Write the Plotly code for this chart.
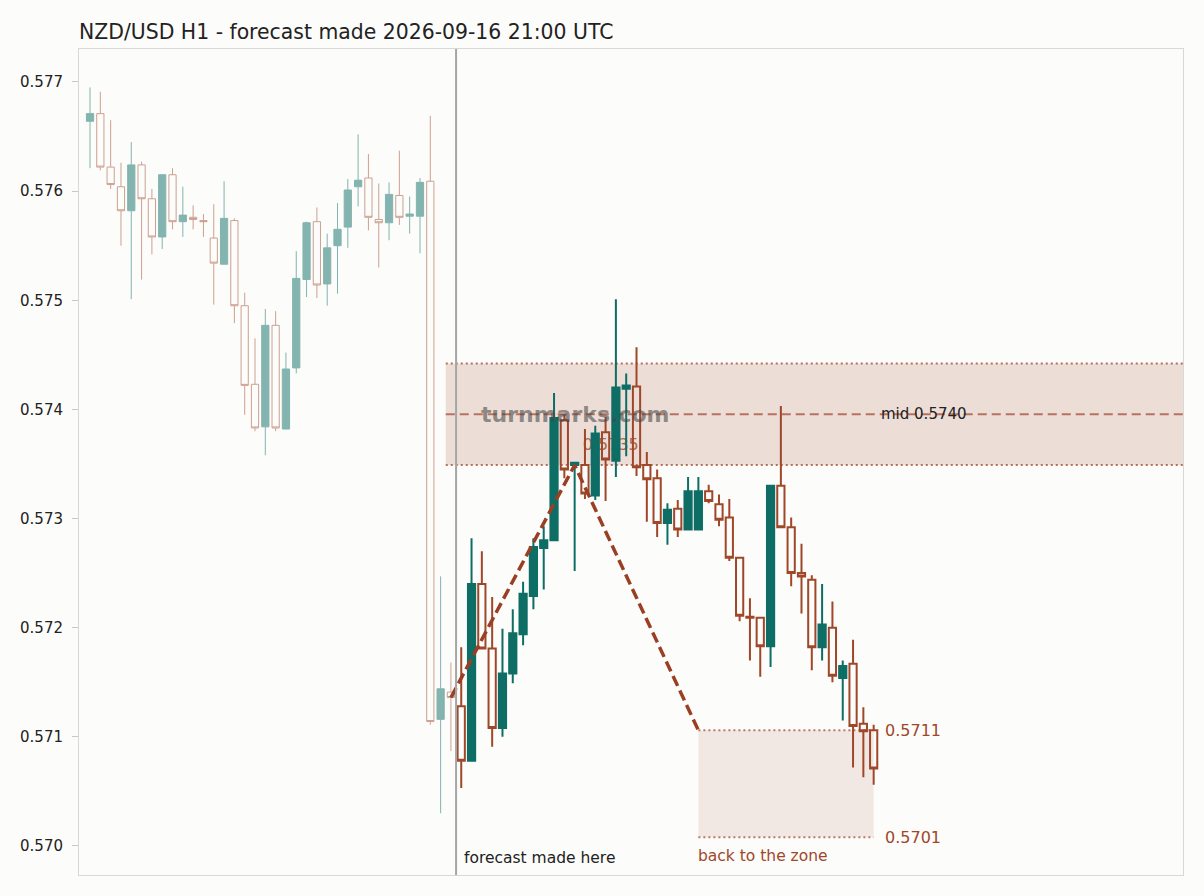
import plotly.graph_objects as go

# ---------------- data ----------------
hist_x = list(range(0, 36))
hist_open = [0.57664, 0.57671, 0.57622, 0.57604, 0.57582, 0.57624, 0.57593, 0.57558, 0.57615, 0.57572,
             0.57576, 0.57573, 0.57557, 0.57533, 0.57573, 0.57495, 0.57423, 0.57384, 0.57477, 0.57382,
             0.57438, 0.57519, 0.57572, 0.57515, 0.57550, 0.57567, 0.57604, 0.57612, 0.57574, 0.57571,
             0.57596, 0.57577, 0.57577, 0.57609, 0.57116, 0.57141]
hist_high = [0.57695, 0.57691, 0.57665, 0.57626, 0.57645, 0.57627, 0.57602, 0.57615, 0.57621, 0.57604,
             0.57587, 0.57579, 0.57588, 0.57609, 0.57575, 0.57507, 0.57465, 0.57492, 0.57490, 0.57452,
             0.57545, 0.57572, 0.57585, 0.57561, 0.57589, 0.57611, 0.57652, 0.57634, 0.57607, 0.57608,
             0.57637, 0.57595, 0.57612, 0.57669, 0.57247, 0.57168]
hist_low = [0.57621, 0.57619, 0.57602, 0.57550, 0.57501, 0.57519, 0.57542, 0.57547, 0.57565, 0.57558,
            0.57565, 0.57558, 0.57496, 0.57533, 0.57479, 0.57395, 0.57380, 0.57358, 0.57380, 0.57382,
            0.57433, 0.57503, 0.57502, 0.57495, 0.57506, 0.57548, 0.57586, 0.57564, 0.57530, 0.57555,
            0.57569, 0.57561, 0.57543, 0.57111, 0.57030, 0.57087]
hist_close = [0.57671, 0.57622, 0.57606, 0.57582, 0.57624, 0.57593, 0.57558, 0.57615, 0.57572, 0.57578,
              0.57574, 0.57572, 0.57534, 0.57575, 0.57495, 0.57422, 0.57383, 0.57477, 0.57383, 0.57437,
              0.57520, 0.57571, 0.57514, 0.57548, 0.57565, 0.57601, 0.57610, 0.57576, 0.57571, 0.57597,
              0.57576, 0.57579, 0.57608, 0.57114, 0.57144, 0.57136]

fc_x = list(range(36, 77))
fc_open = [0.57128, 0.57078, 0.57240, 0.57181, 0.57108, 0.57158, 0.57194, 0.57229, 0.57273, 0.57280,
           0.57390, 0.57349, 0.57349, 0.57321, 0.57379, 0.57353, 0.57419, 0.57421, 0.57349, 0.57337,
           0.57296, 0.57309, 0.57290, 0.57290, 0.57325, 0.57313, 0.57301, 0.57264, 0.57210, 0.57209,
           0.57183, 0.57330, 0.57292, 0.57250, 0.57244, 0.57182, 0.57200, 0.57154, 0.57167, 0.57112,
           0.57106]
fc_high = [0.57182, 0.57282, 0.57270, 0.57228, 0.57199, 0.57217, 0.57242, 0.57282, 0.57293, 0.57415,
           0.57395, 0.57351, 0.57382, 0.57385, 0.57393, 0.57501, 0.57433, 0.57457, 0.57361, 0.57345,
           0.57314, 0.57317, 0.57338, 0.57338, 0.57331, 0.57322, 0.57318, 0.57264, 0.57227, 0.57209,
           0.57330, 0.57403, 0.57301, 0.57277, 0.57248, 0.57240, 0.57224, 0.57170, 0.57189, 0.57127,
           0.57111]
fc_low = [0.57053, 0.57078, 0.57181, 0.57091, 0.57100, 0.57149, 0.57184, 0.57217, 0.57235, 0.57280,
          0.57337, 0.57252, 0.57318, 0.57317, 0.57316, 0.57338, 0.57357, 0.57339, 0.57297, 0.57283,
          0.57276, 0.57283, 0.57290, 0.57290, 0.57314, 0.57293, 0.57261, 0.57206, 0.57170, 0.57155,
          0.57164, 0.57292, 0.57238, 0.57213, 0.57161, 0.57170, 0.57150, 0.57115, 0.57072, 0.57063,
          0.57056]
fc_close = [0.57078, 0.57240, 0.57181, 0.57108, 0.57158, 0.57195, 0.57231, 0.57274, 0.57280, 0.57392,
            0.57345, 0.57351, 0.57323, 0.57378, 0.57354, 0.57420, 0.57422, 0.57347, 0.57336, 0.57296,
            0.57308, 0.57290, 0.57325, 0.57325, 0.57316, 0.57299, 0.57264, 0.57211, 0.57209, 0.57183,
            0.57330, 0.57292, 0.57250, 0.57247, 0.57182, 0.57203, 0.57156, 0.57165, 0.57110, 0.57105,
            0.57071]

forecast_at = 35.5                      # "forecast made here"
zone_start = 34.5
zone_top, zone_bottom = 0.57442, 0.57349
zone_mid = (zone_top + zone_bottom) / 2
path_x = [35, 47, 59]
path_y = [0.57136, 0.57349, 0.57106]
target_x0, target_x1 = 59, 76
target_top, target_bottom = 0.57106, 0.57008
y_ticks = [0.570, 0.571, 0.572, 0.573, 0.574, 0.575, 0.576, 0.577]
x_range = [-1.07, 106.0]
y_range = [0.569734, 0.577302]

title = "NZD/USD H1 - forecast made 2026-09-16 21:00 UTC"

# ---------------- style ----------------
TEAL = "#0e6e66"
RED = "#a0472a"
BG = "#fcfcfa"
FONT = "DejaVu Sans"

fig = go.Figure()

fig.add_trace(go.Candlestick(
    x=hist_x, open=hist_open, high=hist_high, low=hist_low, close=hist_close,
    increasing=dict(line=dict(color=TEAL, width=1), fillcolor=TEAL),
    decreasing=dict(line=dict(color=RED, width=1), fillcolor="rgba(0,0,0,0)"),
    opacity=0.5, hoverinfo="skip", showlegend=False))

fig.add_trace(go.Candlestick(
    x=fc_x, open=fc_open, high=fc_high, low=fc_low, close=fc_close,
    increasing=dict(line=dict(color=TEAL, width=2), fillcolor=TEAL),
    decreasing=dict(line=dict(color=RED, width=2), fillcolor="rgba(0,0,0,0)"),
    hoverinfo="skip", showlegend=False))

fig.add_trace(go.Scatter(
    x=path_x, y=path_y, mode="lines",
    line=dict(color="#9a3f24", width=3.5, dash="11px,5px"),
    hoverinfo="skip", showlegend=False))

shapes = []
# upper zone
shapes.append(dict(type="rect", xref="x", yref="y", x0=zone_start, x1=x_range[1],
                   y0=zone_bottom, y1=zone_top, fillcolor="rgba(160,71,42,0.17)",
                   line=dict(width=0), layer="below"))
for yv in (zone_top, zone_bottom):
    shapes.append(dict(type="line", xref="x", yref="y", x0=zone_start, x1=x_range[1],
                       y0=yv, y1=yv, line=dict(color="rgba(170,90,65,0.85)", width=2, dash="2px,3px"),
                       layer="below"))
shapes.append(dict(type="line", xref="x", yref="y", x0=zone_start, x1=x_range[1],
                   y0=zone_mid, y1=zone_mid,
                   line=dict(color="rgba(175,95,70,0.85)", width=2, dash="9px,5px"), layer="below"))
# target zone
shapes.append(dict(type="rect", xref="x", yref="y", x0=target_x0, x1=target_x1,
                   y0=target_bottom, y1=target_top, fillcolor="rgba(160,71,42,0.11)",
                   line=dict(width=0), layer="below"))
for yv in (target_top, target_bottom):
    shapes.append(dict(type="line", xref="x", yref="y", x0=target_x0, x1=target_x1,
                       y0=yv, y1=yv, line=dict(color="rgba(170,90,65,0.8)", width=2, dash="2px,3px"),
                       layer="below"))
# forecast vertical line
shapes.append(dict(type="line", xref="x", yref="paper", x0=forecast_at, x1=forecast_at,
                   y0=0, y1=1, line=dict(color="#a3a7a5", width=2), layer="above"))
# turning point label (under the candles)
shapes.append(dict(type="rect", xref="x", yref="y", x0=path_x[1] + 0.5, x1=path_x[1] + 7,
                   y0=path_y[1] + 0.00019, y1=path_y[1] + 0.00021,
                   line=dict(width=0), fillcolor="rgba(0,0,0,0)", layer="below",
                   label=dict(text=f"{path_y[1]:.4f}", textposition="middle left", padding=0,
                              font=dict(family=FONT, size=16, color="rgba(160,71,42,0.8)"))))

annotations = [
    dict(x=path_x[1], y=zone_mid, xref="x", yref="y", text="<b>turnmarks.com</b>", showarrow=False,
         xanchor="center", yanchor="middle",
         font=dict(family=FONT, size=22, color="rgba(70,70,70,0.58)")),
    dict(x=76.5, y=zone_mid, xref="x", yref="y", text=f"mid {zone_mid:.4f}", showarrow=False,
         xanchor="left", yanchor="middle", font=dict(family=FONT, size=15, color="#222222")),
    dict(x=76.9, y=target_top, xref="x", yref="y", text=f"{target_top:.4f}", showarrow=False,
         xanchor="left", yanchor="middle", font=dict(family=FONT, size=16, color=RED)),
    dict(x=76.9, y=target_bottom, xref="x", yref="y", text=f"{target_bottom:.4f}", showarrow=False,
         xanchor="left", yanchor="middle", font=dict(family=FONT, size=16, color=RED)),
    dict(x=target_x0, y=target_bottom, xref="x", yref="y", text="back to the zone", showarrow=False,
         xanchor="left", yanchor="top", yshift=-8, xshift=-2, font=dict(family=FONT, size=15.5, color=RED)),
    dict(x=forecast_at + 0.6, y=0, xref="x", yref="paper", text="forecast made here", showarrow=False,
         xanchor="left", yanchor="bottom", yshift=6, font=dict(family=FONT, size=15.5, color="#222222")),
]

fig.update_layout(
    width=1204, height=896,
    margin=dict(l=79, r=21, t=49, b=21),
    paper_bgcolor=BG, plot_bgcolor=BG,
    font=dict(family=FONT, size=15, color="#222222"),
    title=dict(text=title, x=0, xref="paper", xanchor="left", y=1 - 32 / 896, yref="container",
               yanchor="middle", font=dict(family=FONT, size=20.4, color="#222222")),
    shapes=shapes, annotations=annotations,
    showlegend=False,
    boxgap=0.3, boxgroupgap=0,
)
fig.update_xaxes(range=x_range, showticklabels=False, showgrid=False, zeroline=False,
                 showline=True, mirror=True, linecolor="#d8d8d6", linewidth=1, ticks="",
                 rangeslider=dict(visible=False), fixedrange=True)
fig.update_yaxes(range=y_range, tickvals=y_ticks, tickformat=".3f", ticks="outside", ticklen=6,
                 tickcolor="#c8c8c6", showgrid=False, zeroline=False, showline=True, mirror=True,
                 linecolor="#d8d8d6", linewidth=1, ticklabelstandoff=6,
                 tickfont=dict(family=FONT, size=15, color="#222222"),
                 fixedrange=True)

fig.write_html("out.html")
